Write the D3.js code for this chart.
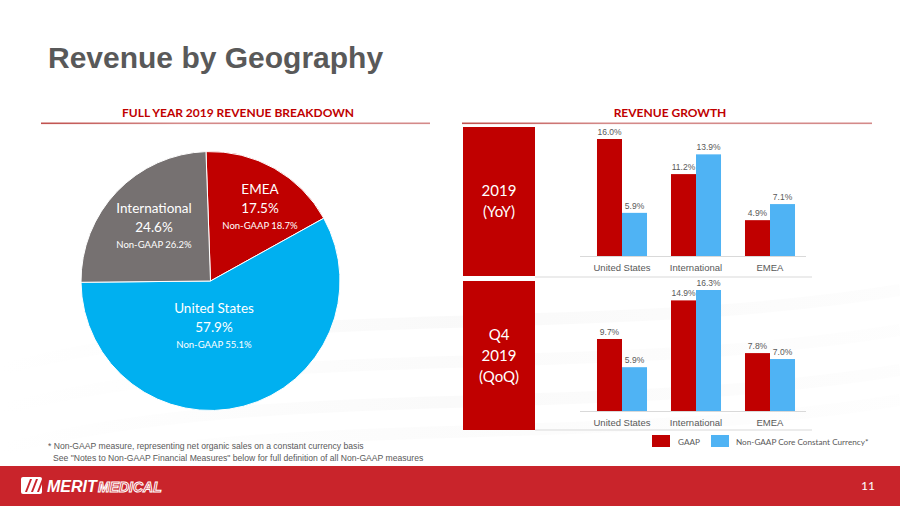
<!DOCTYPE html>
<html><head><meta charset="utf-8">
<script src="https://cdn.jsdelivr.net/npm/d3@7"></script>
<style>
html,body{margin:0;padding:0;background:#fff;}
svg{display:block;}
</style></head>
<body>
<svg id="c" width="900" height="506"></svg>
<script>
// ---- data ----
const pieLabels = ["EMEA", "United States", "International"];
const pieValues = [17.5, 57.9, 24.6];
const pieNonGaap = ["Non-GAAP 18.7%", "Non-GAAP 55.1%", "Non-GAAP 26.2%"];
const barCategories = ["United States", "International", "EMEA"];
const seriesNames = ["GAAP", "Non-GAAP Core Constant Currency*"];
const yoyGaap = [16.0, 11.2, 4.9];
const yoyNonGaap = [5.9, 13.9, 7.1];
const qoqGaap = [9.7, 14.9, 7.8];
const qoqNonGaap = [5.9, 16.3, 7.0];
const panelLabels = [["2019", "(YoY)"], ["Q4", "2019", "(QoQ)"]];

const svg = d3.select("#c");
const RED = "#c00000", BLUE = "#4fb3f4", PIEBLUE = "#00b0f0", GREY = "#767171";
const calibri = "Lato, 'Open Sans', sans-serif";

// subtle background swooshes
const defs = svg.append("defs");
const g1 = defs.append("linearGradient").attr("id","sw").attr("x1","0").attr("x2","1");
g1.append("stop").attr("offset","0").attr("stop-color","#ffffff");
g1.append("stop").attr("offset","0.5").attr("stop-color","#e8e8e8");
g1.append("stop").attr("offset","1").attr("stop-color","#f7f7f7");
[[330,0.25],[370,0.18],[410,0.22],[440,0.15]].forEach(([y,o])=>{
  svg.append("path").attr("d",`M0,${y+40} C250,${y-30} 600,${y+10} 900,${y-40}`)
    .attr("fill","none").attr("stroke","url(#sw)").attr("stroke-width",12).attr("opacity",o);
});

// title
svg.append("text").attr("x",48).attr("y",68).text("Revenue by Geography")
  .attr("font-family","Arial, 'Liberation Sans', sans-serif").attr("font-weight","bold")
  .attr("font-size",30).attr("fill","#595959");

// section headers
const ug = defs.append("linearGradient").attr("id","ul").attr("x1","0").attr("x2","1");
ug.append("stop").attr("offset","0").attr("stop-color","#c0504d");
ug.append("stop").attr("offset","0.35").attr("stop-color","#d48a89");
ug.append("stop").attr("offset","1").attr("stop-color","#d48a89");
[[238,"FULL YEAR 2019 REVENUE BREAKDOWN",41,430],[670,"REVENUE GROWTH",462,872]].forEach(([cx,t,x0,x1])=>{
  svg.append("text").attr("x",cx).attr("y",117).attr("text-anchor","middle").text(t)
    .attr("font-family",calibri).attr("font-weight","bold").attr("font-size",12).attr("fill",RED);
  svg.append("rect").attr("x",x0).attr("y",122.5).attr("width",x1-x0).attr("height",1.6).attr("fill","url(#ul)");
});

// ---- pie ----
const cx = 210.5, cy = 281, R = 129.5;
const startA = -2 * Math.PI / 180;
const pie = d3.pie().sort(null).startAngle(startA).endAngle(startA + 2*Math.PI)(pieValues);
const arc = d3.arc().innerRadius(0).outerRadius(R);
const pieColors = d3.scaleOrdinal().domain(pieLabels).range([RED, PIEBLUE, GREY]);
const pg = svg.append("g").attr("transform",`translate(${cx},${cy})`);
pg.selectAll("path").data(pie).join("path").attr("d",arc)
  .attr("fill",(d,i)=>pieColors(pieLabels[i])).attr("stroke","#fff").attr("stroke-width",1);
// label anchors relative to the pie centre
const labelPos = [[49.5,-87],[3.5,32],[-56.5,-68]];
pie.forEach((d,i)=>{
  const [lx,ly] = labelPos[i];
  const t = pg.append("text").attr("text-anchor","middle").attr("fill","#fff").attr("font-family",calibri);
  t.append("tspan").attr("x",lx).attr("y",ly).attr("font-size",13.5).text(pieLabels[i]);
  t.append("tspan").attr("x",lx).attr("y",ly+19).attr("font-size",13.5).text(pieValues[i].toFixed(1)+"%");
  t.append("tspan").attr("x",lx).attr("y",ly+35).attr("font-size",9.5).text(pieNonGaap[i]);
});

// ---- bar panels ----
const panels = [
  {top:127, bottom:276, base:256, maxTop:139, gaap:yoyGaap, ng:yoyNonGaap, sep:277},
  {top:281, bottom:430, base:411, maxTop:290, gaap:qoqGaap, ng:qoqNonGaap, sep:430}
];
const x0 = d3.scaleBand().domain(barCategories).range([585,807]).paddingInner(0.324).paddingOuter(0.162);
const x1 = d3.scaleBand().domain(seriesNames).range([0,x0.bandwidth()]);
const serColor = d3.scaleOrdinal().domain(seriesNames).range([RED, BLUE]);

panels.forEach((p,pi)=>{
  svg.append("rect").attr("x",463).attr("y",p.top).attr("width",72).attr("height",p.bottom-p.top).attr("fill",RED);
  const lines = panelLabels[pi];
  const midY = (p.top+p.bottom)/2;
  const lt = svg.append("text").attr("text-anchor","middle").attr("fill","#fff")
    .attr("font-family",calibri).attr("font-size",15);
  lines.forEach((l,j)=>{
    lt.append("tspan").attr("x",499).attr("y",midY + (j-(lines.length-1)/2)*21 + 5).text(l);
  });
  svg.append("line").attr("x1",535).attr("x2",812).attr("y1",p.sep).attr("y2",p.sep)
    .attr("stroke","#d9d9d9").attr("stroke-width",1);

  const maxV = d3.max(p.gaap.concat(p.ng));
  const y = d3.scaleLinear().domain([0,maxV]).range([p.base,p.maxTop]);
  const g = svg.append("g");
  g.append("line").attr("x1",580).attr("x2",806).attr("y1",p.base+0.5).attr("y2",p.base+0.5)
    .attr("stroke","#d9d9d9").attr("stroke-width",1);
  const data = [];
  barCategories.forEach((c,i)=>{
    data.push({c, s:seriesNames[0], v:p.gaap[i]});
    data.push({c, s:seriesNames[1], v:p.ng[i]});
  });
  g.selectAll("rect.bar").data(data).join("rect").attr("class","bar")
    .attr("x",d=>x0(d.c)+x1(d.s)).attr("width",x1.bandwidth())
    .attr("y",d=>y(d.v)).attr("height",d=>y(0)-y(d.v)).attr("fill",d=>serColor(d.s));
  g.selectAll("text.val").data(data).join("text").attr("class","val")
    .attr("x",d=>x0(d.c)+x1(d.s)+x1.bandwidth()/2).attr("y",d=>y(d.v)-4)
    .attr("text-anchor","middle").attr("font-family","Arial, 'Liberation Sans', sans-serif")
    .attr("font-size",8.5).attr("fill","#595959").text(d=>d.v.toFixed(1)+"%");
  const ax = g.append("g").attr("transform",`translate(0,${p.base})`)
    .call(d3.axisBottom(x0).tickSize(0).tickPadding(8));
  ax.select(".domain").remove();
  ax.selectAll("text").attr("font-family","Arial, 'Liberation Sans', sans-serif")
    .attr("font-size",9.5).attr("fill","#595959");
});

// legend
const leg = svg.append("g");
const legX = [652, 711], legTX = [678, 736];
seriesNames.forEach((s,i)=>{
  leg.append("rect").attr("x",legX[i]).attr("y",435).attr("width",18).attr("height",12).attr("fill",serColor(s));
  leg.append("text").attr("x",legTX[i]).attr("y",444.5).text(s)
    .attr("font-family",calibri).attr("font-size",8.2).attr("fill","#595959");
});

// footnote
const fn = svg.append("text").attr("font-family","Arial, 'Liberation Sans', sans-serif").attr("font-size",8.6).attr("fill","#595959");
fn.append("tspan").attr("x",48).attr("y",449).text("* Non-GAAP measure, representing net organic sales on a constant currency basis");
fn.append("tspan").attr("x",53).attr("y",461).text("See \"Notes to Non-GAAP Financial Measures\" below for full definition of all Non-GAAP measures");

// footer band
svg.append("rect").attr("x",0).attr("y",466).attr("width",900).attr("height",40).attr("fill","#c9242b");
svg.append("rect").attr("x",21).attr("y",477).attr("width",21).attr("height",17).attr("rx",2).attr("fill","#fff");
[0,6,12].forEach(o=>{
  svg.append("path").attr("d",`M${25+o},492 L${30+o},479 L${32+o},479 L${27+o},492 Z`).attr("fill","#c9242b");
});
svg.append("text").attr("x",47).attr("y",492).text("MERIT").attr("font-family","Arial, sans-serif")
  .attr("font-weight","900").attr("font-style","italic").attr("font-size",16).attr("fill","#fff");
svg.append("text").attr("x",98).attr("y",492).text("MEDICAL").attr("font-family","Arial, sans-serif")
  .attr("font-weight","bold").attr("font-style","italic").attr("font-size",14).attr("fill","none")
  .attr("stroke","#fff").attr("stroke-width",1);
svg.append("text").attr("x",868).attr("y",490).attr("text-anchor","middle").text("11")
  .attr("font-family",calibri).attr("font-size",12).attr("fill","#fff");
</script>
</body></html>
